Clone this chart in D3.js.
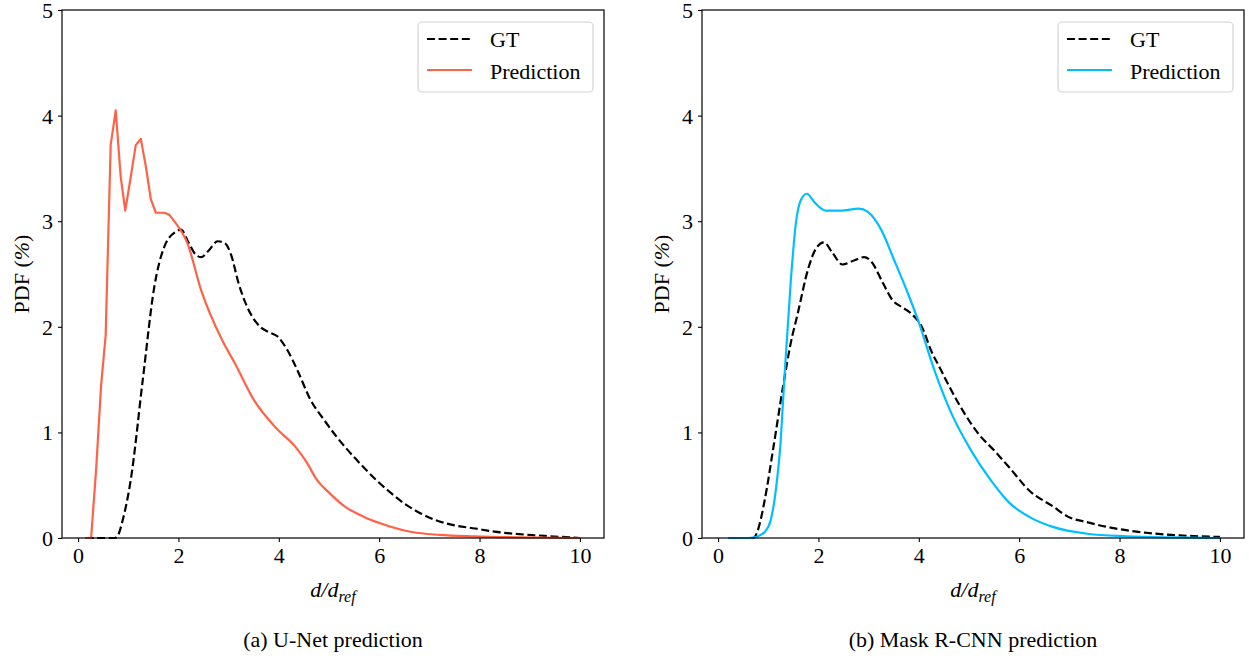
<!DOCTYPE html>
<html>
<head>
<meta charset="utf-8">
<script src="https://cdn.jsdelivr.net/npm/d3@7"></script>
<style>
  html, body { margin: 0; padding: 0; background: #fff; }
  svg text { font-family: "Liberation Serif", "Times New Roman", Times, serif !important; fill: #000; }
</style>
</head>
<body>
<svg id="chart" width="1249" height="661"></svg>
<script>
// ---------- data ----------
const xTicks = [0, 2, 4, 6, 8, 10];
const yTicks = [0, 1, 2, 3, 4, 5];
const legendLabels = ["GT", "Prediction"];
const captions = ["(a) U-Net prediction", "(b) Mask R-CNN prediction"];

// U-Net panel
const unetGtX = [0.15, 0.5, 0.73, 0.8, 0.89, 1.05, 1.29, 1.52, 1.72, 1.95, 2.05, 2.2, 2.35, 2.45, 2.6, 2.78, 2.93, 3.05, 3.2, 3.43, 3.63, 3.8, 3.97, 4.17, 4.37, 4.63, 4.9, 5.15, 5.55, 5.94, 6.2, 6.49, 6.8, 7.12, 7.5, 7.91, 8.3, 8.7, 9.3, 10];
const unetGtY = [0, 0, 0, 0.03, 0.17, 0.55, 1.5, 2.38, 2.76, 2.90, 2.92, 2.80, 2.68, 2.66, 2.72, 2.81, 2.79, 2.68, 2.41, 2.13, 2.0, 1.95, 1.91, 1.78, 1.59, 1.31, 1.12, 0.96, 0.74, 0.55, 0.44, 0.33, 0.24, 0.17, 0.12, 0.09, 0.06, 0.04, 0.02, 0.0];
const unetPredX = [0.15, 0.26, 0.36, 0.46, 0.55, 0.65, 0.75, 0.85, 0.94, 1.04, 1.15, 1.25, 1.35, 1.45, 1.55, 1.72, 1.82, 1.98, 2.18, 2.45, 2.87, 3.13, 3.5, 3.97, 4.32, 4.55, 4.76, 5.0, 5.31, 5.7, 6.02, 6.65, 7.2, 7.9, 8.8, 10];
const unetPredY = [0, 0, 0.65, 1.45, 1.92, 3.72, 4.05, 3.42, 3.10, 3.39, 3.72, 3.78, 3.52, 3.21, 3.08, 3.08, 3.06, 2.96, 2.79, 2.35, 1.875, 1.65, 1.31, 1.03, 0.87, 0.72, 0.55, 0.43, 0.30, 0.2, 0.14, 0.057, 0.03, 0.016, 0.006, 0];

// Mask R-CNN panel
const mrcnnGtX = [0.2, 0.5, 0.70, 0.78, 0.93, 1.1, 1.3, 1.45, 1.59, 1.79, 1.95, 2.11, 2.28, 2.48, 2.72, 2.91, 3.05, 3.28, 3.48, 3.65, 3.84, 4.08, 4.24, 4.41, 4.58, 4.91, 5.2, 5.5, 5.8, 6.2, 6.67, 6.98, 7.35, 7.75, 8.53, 9.2, 10];
const mrcnnGtY = [0, 0, 0, 0.057, 0.36, 0.85, 1.45, 1.85, 2.13, 2.54, 2.74, 2.80, 2.70, 2.59, 2.63, 2.66, 2.62, 2.42, 2.25, 2.19, 2.13, 1.98, 1.78, 1.62, 1.46, 1.18, 0.98, 0.83, 0.67, 0.45, 0.30, 0.2, 0.15, 0.105, 0.05, 0.025, 0.01];
const mrcnnPredX = [0.2, 0.5, 0.7, 0.85, 0.93, 1.05, 1.16, 1.24, 1.32, 1.45, 1.55, 1.65, 1.77, 1.92, 2.15, 2.45, 2.81, 2.98, 3.25, 3.51, 3.78, 3.98, 4.31, 4.65, 5.04, 5.43, 5.81, 6.2, 6.67, 7.36, 8.14, 9.0, 10];
const mrcnnPredY = [0, 0, 0.005, 0.03, 0.057, 0.17, 0.49, 0.87, 1.5, 2.44, 2.98, 3.20, 3.26, 3.18, 3.10, 3.10, 3.12, 3.09, 2.92, 2.63, 2.32, 2.07, 1.59, 1.18, 0.83, 0.55, 0.33, 0.2, 0.105, 0.04, 0.016, 0.005, 0.0];

// ---------- drawing ----------
const svg = d3.select("#chart");
const FS = 22;
const SERIF = "'Liberation Serif', 'Times New Roman', Times, serif";

// sharp (linear) segment up to this x, smooth afterwards
const panels = [
  { left: 62, gtX: unetGtX, gtY: unetGtY, pX: unetPredX, pY: unetPredY, color: "#ff6347", sharpUntil: 1.98, caption: captions[0] },
  { left: 702, gtX: mrcnnGtX, gtY: mrcnnGtY, pX: mrcnnPredX, pY: mrcnnPredY, color: "#00bfff", sharpUntil: -1, caption: captions[1] }
];

const plotTop = 10, plotBottom = 538, plotWidth = 542;

panels.forEach(p => {
  const x = d3.scaleLinear().domain([-0.32, 10.48]).range([p.left, p.left + plotWidth]);
  const y = d3.scaleLinear().domain([0, 5]).range([plotBottom, plotTop]);
  const g = svg.append("g");

  const smooth = d3.line().x(d => x(d[0])).y(d => y(d[1])).curve(d3.curveMonotoneX);
  const sharp = d3.line().x(d => x(d[0])).y(d => y(d[1])).curve(d3.curveLinear);

  const gtData = p.gtX.map((v, i) => [v, p.gtY[i]]);
  const pData = p.pX.map((v, i) => [v, p.pY[i]]);
  const pSharp = pData.filter(d => d[0] <= p.sharpUntil);
  const pSmooth = pData.filter(d => d[0] >= p.sharpUntil);

  g.append("path").datum(gtData).attr("d", smooth)
    .attr("fill", "none").attr("stroke", "#000").attr("stroke-width", 2.2)
    .attr("stroke-dasharray", "8,3.6");
  const pd = (pSharp.length > 1 ? sharp(pSharp) : "") + smooth(pSmooth);
  g.append("path").attr("d", pd)
    .attr("fill", "none").attr("stroke", p.color).attr("stroke-width", 2.2)
    .attr("stroke-linejoin", "round");

  // axes
  const xAxis = d3.axisBottom(x).tickValues(xTicks).tickSize(4).tickPadding(5).tickFormat(d3.format("d"));
  const yAxis = d3.axisLeft(y).tickValues(yTicks).tickSize(4).tickPadding(5).tickFormat(d3.format("d"));
  const gx = g.append("g").attr("transform", `translate(0,${plotBottom})`).call(xAxis);
  const gy = g.append("g").attr("transform", `translate(${p.left},0)`).call(yAxis);
  [gx, gy].forEach(a => {
    a.attr("font-family", SERIF).attr("font-size", FS);
    a.select(".domain").remove();
    a.selectAll("line").attr("stroke", "#000").attr("stroke-width", 1.1);
    a.selectAll("text").attr("font-family", SERIF).style("font-size", FS + "px");
  });
  gy.selectAll("text").attr("dy", "0.34em");
  gx.selectAll("text").attr("dy", "0.72em");

  // frame
  g.append("rect").attr("x", p.left).attr("y", plotTop).attr("width", plotWidth).attr("height", plotBottom - plotTop)
    .attr("fill", "none").attr("stroke", "#000").attr("stroke-width", 1.2);

  // x label  d/d_ref
  const cx = p.left + plotWidth / 2;
  const xl = g.append("text").attr("x", cx).attr("y", 597).attr("text-anchor", "middle")
    .attr("font-family", SERIF).style("font-size", FS + "px").style("font-style", "italic");
  xl.append("tspan").text("d/d");
  xl.append("tspan").text("ref").attr("dy", 5).style("font-size", "16px");

  // y label
  const yl = g.append("text").attr("transform", `translate(${p.left - 33},${(plotTop + plotBottom) / 2}) rotate(-90)`)
    .attr("text-anchor", "middle").attr("font-family", SERIF).style("font-size", FS + "px");
  yl.append("tspan").text("PDF (");
  yl.append("tspan").text("%").style("font-style", "italic");
  yl.append("tspan").text(")");

  // caption
  g.append("text").attr("x", cx).attr("y", 647).attr("text-anchor", "middle")
    .attr("font-family", SERIF).style("font-size", FS + "px").text(p.caption);

  // legend
  const lx = p.left + 356, ly = 22;
  const lg = g.append("g");
  lg.append("rect").attr("x", lx).attr("y", ly).attr("width", 175).attr("height", 70)
    .attr("rx", 4).attr("fill", "#fff").attr("fill-opacity", 0.8)
    .attr("stroke", "#d4d4d4").attr("stroke-width", 1.2);
  lg.append("line").attr("x1", lx + 9).attr("x2", lx + 54).attr("y1", ly + 17).attr("y2", ly + 17)
    .attr("stroke", "#000").attr("stroke-width", 2.2).attr("stroke-dasharray", "8,3.6");
  lg.append("text").attr("x", lx + 72).attr("y", ly + 25).attr("font-family", SERIF).style("font-size", FS + "px").text(legendLabels[0]);
  lg.append("line").attr("x1", lx + 9).attr("x2", lx + 54).attr("y1", ly + 48).attr("y2", ly + 48)
    .attr("stroke", p.color).attr("stroke-width", 2.2);
  lg.append("text").attr("x", lx + 72).attr("y", ly + 57).attr("font-family", SERIF).style("font-size", FS + "px").text(legendLabels[1]);
});
</script>
</body>
</html>
